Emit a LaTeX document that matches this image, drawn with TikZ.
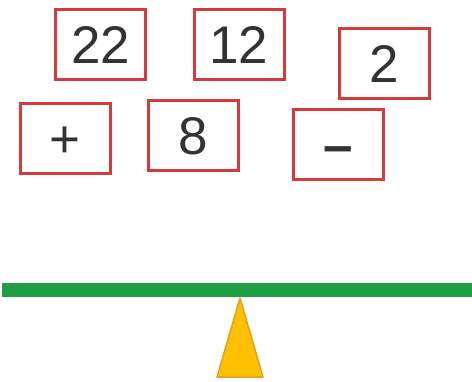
\documentclass[tikz,border=0pt]{standalone}
\usepackage{fontspec}
\setmainfont{Liberation Sans}
\usetikzlibrary{positioning}

\definecolor{cardred}{HTML}{D8393B}
\definecolor{beamgreen}{HTML}{1E9E45}
\definecolor{pivotfill}{HTML}{FFC000}
\definecolor{pivotline}{HTML}{E3A21A}

\tikzset{
  card/.style={draw=cardred, line width=3pt, fill=white,
    minimum width=90pt, minimum height=70pt, inner sep=0pt,
    font=\fontsize{53}{60}\selectfont, text=black!80,
    text height=38pt, text depth=0pt}
}

\begin{document}
\begin{tikzpicture}[x=1pt, y=-1pt]
  \useasboundingbox (0,0) rectangle (472,381);
  % Number and sign cards
  \node[card] (n22) at (100.5, 44) {22};
  \node[card] (n12) at (239, 44) {12};
  \node[card] (n2) at (384.5, 63) {2};
  \node[card] (plus) at (65, 138) {+};
  \node[card] (n8) at (193.5, 135.5) {8};
  \node[card] (minus) at (338, 144.5) {\textbf{–}};
  % Beam
  \draw[beamgreen, line width=14pt] (2, 290) -- (472, 290);
  % Pivot
  \draw[fill=pivotfill, draw=pivotline, line width=1.5pt, line join=round]
    (240, 298) -- (263, 377) -- (217, 377) -- cycle;
\end{tikzpicture}
\end{document}
